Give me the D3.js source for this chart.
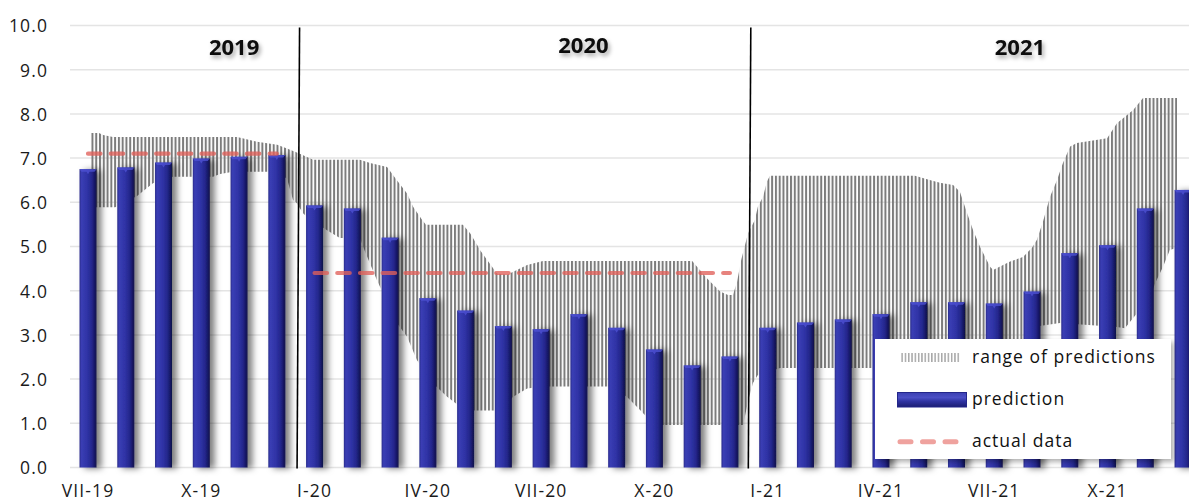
<!DOCTYPE html>
<html>
<head>
<meta charset="utf-8">
<script src="https://cdn.jsdelivr.net/npm/d3@7"></script>
<style>
  html, body { margin: 0; padding: 0; background: #ffffff; }
  svg { display: block; }
  text { font-family: "Open Sans", sans-serif; }
</style>
</head>
<body>
<svg id="chart" width="1189" height="501"></svg>
<script>
// Monthly categories, July 2019 – December 2021
const months = [
  "VII-19","VIII-19","IX-19","X-19","XI-19","XII-19",
  "I-20","II-20","III-20","IV-20","V-20","VI-20","VII-20","VIII-20","IX-20","X-20","XI-20","XII-20",
  "I-21","II-21","III-21","IV-21","V-21","VI-21","VII-21","VIII-21","IX-21","X-21","XI-21","XII-21"
];

// Point prediction for each month
const prediction = [
  6.75, 6.79, 6.90, 6.99, 7.03, 7.07,
  5.93, 5.86, 5.20, 3.83, 3.55, 3.20, 3.13, 3.47, 3.16, 2.67, 2.31, 2.51,
  3.16, 3.28, 3.35, 3.47, 3.74, 3.74, 3.71, 3.98, 4.85, 5.03, 5.86, 6.28
];

// Actual data, one flat segment per year
const actual2019 = [7.1, 7.1, 7.1, 7.1, 7.1, 7.1];
const actual2020 = [4.4, 4.4, 4.4, 4.4, 4.4, 4.4, 4.4, 4.4, 4.4, 4.4, 4.4, 4.4];

// Range of predictions: upper and lower envelope as [month position, value]
const rangeHigh = [
  [0.08, 7.57], [0.29, 7.57], [0.40, 7.52], [0.66, 7.48], [3.95, 7.48], [4.48, 7.37],
  [5.01, 7.30], [5.27, 7.22], [5.61, 7.10], [5.96, 6.96], [7.20, 6.96], [7.47, 6.89],
  [7.92, 6.80], [8.18, 6.50], [8.45, 6.20], [8.61, 5.90], [8.85, 5.60], [8.95, 5.49],
  [9.93, 5.49], [10.12, 5.30], [10.33, 5.00], [10.38, 4.92], [10.83, 4.39], [11.10, 4.36],
  [11.63, 4.58], [12.05, 4.67], [16.00, 4.67], [16.39, 4.28], [16.74, 3.98], [16.95, 3.90],
  [17.08, 3.90], [17.19, 4.20], [17.30, 4.70], [17.48, 5.30], [17.66, 5.60], [17.74, 5.90],
  [17.88, 6.13], [17.98, 6.47], [18.06, 6.60], [21.90, 6.60], [22.22, 6.52], [22.56, 6.44],
  [22.91, 6.39], [23.09, 6.24], [23.28, 5.76], [23.44, 5.37], [23.62, 5.00], [23.89, 4.54],
  [23.97, 4.47], [24.42, 4.66], [24.76, 4.76], [25.00, 4.97], [25.13, 5.15], [25.29, 5.56],
  [25.48, 6.13], [25.66, 6.50], [25.82, 6.89], [26.01, 7.26], [26.19, 7.34], [26.99, 7.45],
  [27.25, 7.79], [27.68, 8.09], [27.94, 8.36], [28.84, 8.36]
];
const rangeLow = [
  [0.08, 5.89], [0.72, 5.89], [1.30, 6.14], [1.72, 6.43], [2.25, 6.58], [3.31, 6.58],
  [3.50, 6.64], [3.84, 6.69], [4.90, 6.69], [5.27, 6.54], [5.43, 6.05], [5.53, 5.98],
  [5.69, 5.76], [5.80, 5.67], [6.33, 5.37], [6.67, 5.19], [7.20, 5.19], [7.33, 4.90],
  [7.65, 4.24], [8.18, 3.27], [8.45, 2.96], [8.71, 2.43], [9.14, 1.90], [9.51, 1.60],
  [9.85, 1.38], [10.12, 1.29], [10.91, 1.29], [11.26, 1.60], [11.63, 1.79], [12.05, 1.83],
  [13.82, 1.83], [14.27, 1.60], [14.62, 1.30], [14.88, 1.07], [15.07, 0.96], [17.35, 0.96],
  [17.48, 1.50], [17.61, 1.91], [17.74, 2.09], [18.33, 2.25], [23.90, 2.25], [24.60, 2.80],
  [25.20, 3.20], [25.74, 3.27], [27.25, 3.18], [27.46, 3.15], [28.13, 3.86], [28.26, 4.17],
  [28.47, 4.54], [28.65, 4.92], [28.84, 4.97]
];

const yTicks = [0, 1, 2, 3, 4, 5, 6, 7, 8, 9, 10];
const xTickLabels = ["VII-19","X-19","I-20","IV-20","VII-20","X-20","I-21","IV-21","VII-21","X-21"];
const years = [
  { label: "2019", at: 3.87, y: 9.33 },
  { label: "2020", at: 13.12, y: 9.38 },
  { label: "2021", at: 24.68, y: 9.33 }
];
const yearDividers = [5.55, 17.5];

const svg = d3.select("#chart");
const W = 1189, H = 501;

const y = d3.scaleLinear().domain([0, 10]).range([467.5, 25.5]);
const x = d3.scaleBand().domain(months).range([69.12, 1201.92]).paddingInner(0.55).paddingOuter(0.275);
const step = x.step();
const bw = x.bandwidth();
const cx = m => x(m) + bw / 2;
const xPos = d3.scaleLinear().domain([0, months.length - 1]).range([cx(months[0]), cx(months[months.length - 1])]);

const defs = svg.append("defs");

// vertical hatch for the prediction range
const hatch = defs.append("pattern").attr("id", "hatch")
  .attr("patternUnits", "userSpaceOnUse")
  .attr("x", xPos(0) - 0.3).attr("y", 0)
  .attr("width", step / 10).attr("height", 20);
hatch.append("rect").attr("x", 0).attr("y", 0).attr("width", 2.0).attr("height", 20).attr("fill", "#7b7b7b");

const hatchLight = defs.append("pattern").attr("id", "hatchLight")
  .attr("patternUnits", "userSpaceOnUse")
  .attr("x", 0).attr("y", 0).attr("width", 3.3).attr("height", 20);
hatchLight.append("rect").attr("x", 0).attr("y", 0).attr("width", 1.5).attr("height", 20).attr("fill", "#a8a8a8");

// cylinder-like shading of the bars
const barGrad = defs.append("linearGradient").attr("id", "barGrad").attr("x1", 0).attr("x2", 1).attr("y1", 0).attr("y2", 0);
[[0, "#2a2d8c"], [0.12, "#3a3eb4"], [0.45, "#2f33a6"], [0.72, "#24278c"], [0.88, "#171968"], [1, "#0f1047"]]
  .forEach(([o, c]) => barGrad.append("stop").attr("offset", o).attr("stop-color", c));

const legGrad = defs.append("linearGradient").attr("id", "legGrad").attr("x1", 0).attr("x2", 0).attr("y1", 0).attr("y2", 1);
[[0, "#3c40b2"], [0.35, "#4b4fc4"], [0.6, "#2f33a2"], [1, "#1b1d72"]]
  .forEach(([o, c]) => legGrad.append("stop").attr("offset", o).attr("stop-color", c));

const barShadow = defs.append("filter").attr("id", "barShadow").attr("x", "-30%").attr("y", "-10%").attr("width", "180%").attr("height", "120%");
barShadow.append("feDropShadow").attr("dx", 5).attr("dy", 1).attr("stdDeviation", 3)
  .attr("flood-color", "#000").attr("flood-opacity", 0.5);

const textShadow = defs.append("filter").attr("id", "textShadow").attr("x", "-20%").attr("y", "-30%").attr("width", "150%").attr("height", "180%");
textShadow.append("feDropShadow").attr("dx", 2).attr("dy", 3).attr("stdDeviation", 2)
  .attr("flood-color", "#000").attr("flood-opacity", 0.35);

const hatchSoft = defs.append("filter").attr("id", "hatchSoft");
hatchSoft.append("feGaussianBlur").attr("stdDeviation", 0.25);

const boxShadow = defs.append("filter").attr("id", "boxShadow").attr("x", "-5%").attr("y", "-5%").attr("width", "115%").attr("height", "120%");
boxShadow.append("feDropShadow").attr("dx", 3).attr("dy", 3).attr("stdDeviation", 2.5)
  .attr("flood-color", "#000").attr("flood-opacity", 0.3);

// horizontal grid lines
svg.append("g").selectAll("line").data(yTicks).join("line")
  .attr("x1", 70).attr("x2", W)
  .attr("y1", d => y(d)).attr("y2", d => y(d))
  .attr("stroke", "#e4e4e4").attr("stroke-width", 1.5);

// y axis labels
const yAxis = d3.axisLeft(y).tickValues(yTicks).tickFormat(d3.format(".1f")).tickSize(0).tickPadding(0);
svg.append("g").attr("transform", "translate(48,0)").call(yAxis)
  .call(g => g.select(".domain").remove())
  .call(g => g.selectAll("text")
    .attr("font-family", "Open Sans, sans-serif").attr("font-size", 17.5)
    .attr("letter-spacing", 1.1).attr("fill", "#1a1a1a").attr("dy", "0.36em"));

// x axis labels
const xAxis = d3.axisBottom(x).tickValues(xTickLabels).tickSize(0).tickPadding(0);
svg.append("g").attr("transform", "translate(0,482)").call(xAxis)
  .call(g => g.select(".domain").remove())
  .call(g => g.selectAll("text")
    .attr("font-family", "Open Sans, sans-serif").attr("font-size", 17.5)
    .attr("letter-spacing", 1.1).attr("fill", "#1a1a1a").attr("dy", "0.85em"));

// range of predictions
const rangePoly = rangeHigh.concat(rangeLow.slice().reverse());
const poly = d3.line().x(d => xPos(d[0])).y(d => y(d[1]));
svg.append("path").attr("d", poly(rangePoly) + "Z")
  .attr("fill", "url(#hatch)").attr("filter", "url(#hatchSoft)");

// year dividers
svg.append("g").selectAll("line").data(yearDividers).join("line")
  .attr("x1", d => xPos(d) + 2).attr("x2", d => xPos(d) - 0.5)
  .attr("y1", y(10) + 2).attr("y2", y(0) + 1)
  .attr("stroke", "#000").attr("stroke-width", 1.6);

// prediction bars
const bars = svg.append("g").attr("filter", "url(#barShadow)");
bars.selectAll("rect").data(prediction).join("rect")
  .attr("x", (d, i) => x(months[i]))
  .attr("y", d => y(d))
  .attr("width", bw)
  .attr("height", d => y(0) - y(d))
  .attr("fill", "url(#barGrad)");
bars.selectAll("path.cap").data(prediction).join("path").attr("class", "cap")
  .attr("d", (d, i) => {
    const x0 = x(months[i]), y0 = y(d);
    return `M${x0},${y0}L${x0 + bw},${y0}L${x0 + bw - 2},${y0 + 2.5}L${x0 + bw / 2 + 1.5},${y0 + 2.5}L${x0 + bw / 2},${y0 + 5}L${x0 + bw / 2 - 1.5},${y0 + 2.5}L${x0 + 2},${y0 + 2.5}Z`;
  })
  .attr("fill", "#4f53d6").attr("opacity", 0.75);

// actual data
const actualLine = d3.line().x(d => cx(months[d.i])).y(d => y(d.v));
const actualSeries = [
  actual2019.map((v, k) => ({ i: k, v })),
  actual2020.map((v, k) => ({ i: k + actual2019.length, v }))
];
svg.append("g").selectAll("path").data(actualSeries).join("path")
  .attr("d", actualLine)
  .attr("fill", "none").attr("stroke", "#e0605a").attr("stroke-opacity", 0.78)
  .attr("stroke-width", 4.2).attr("stroke-linecap", "round")
  .attr("stroke-dasharray", "12.5,10.2");

// year labels
svg.append("g").selectAll("text").data(years).join("text")
  .attr("x", d => xPos(d.at)).attr("y", d => y(d.y))
  .attr("text-anchor", "middle")
  .attr("font-family", "Open Sans, sans-serif").attr("font-weight", 700)
  .attr("font-size", 22).attr("fill", "#0a0a0a")
  .attr("filter", "url(#textShadow)")
  .text(d => d.label);

// legend
const leg = svg.append("g").attr("transform", "translate(875,339)");
leg.append("rect").attr("width", 296).attr("height", 120).attr("fill", "#fff").attr("filter", "url(#boxShadow)");
leg.append("rect").attr("x", 25).attr("y", 14).attr("width", 60).attr("height", 9).attr("fill", "url(#hatchLight)");
leg.append("rect").attr("x", 22.5).attr("y", 53.5).attr("width", 69).attr("height", 14.5)
  .attr("fill", "url(#legGrad)").attr("stroke", "#23268a").attr("stroke-width", 1);
leg.append("line").attr("x1", 25).attr("x2", 84).attr("y1", 102.7).attr("y2", 102.7)
  .attr("stroke", "#efa29e").attr("stroke-width", 5).attr("stroke-linecap", "round")
  .attr("stroke-dasharray", "11,11.5");
const legendItems = ["range of predictions", "prediction", "actual data"];
const legendY = [24, 66, 107.5];
leg.selectAll("text").data(legendItems).join("text")
  .attr("x", 97).attr("y", (d, i) => legendY[i])
  .attr("font-family", "Open Sans, sans-serif").attr("font-size", 17.5)
  .attr("letter-spacing", 1.0).attr("fill", "#111")
  .text(d => d);
</script>
</body>
</html>
